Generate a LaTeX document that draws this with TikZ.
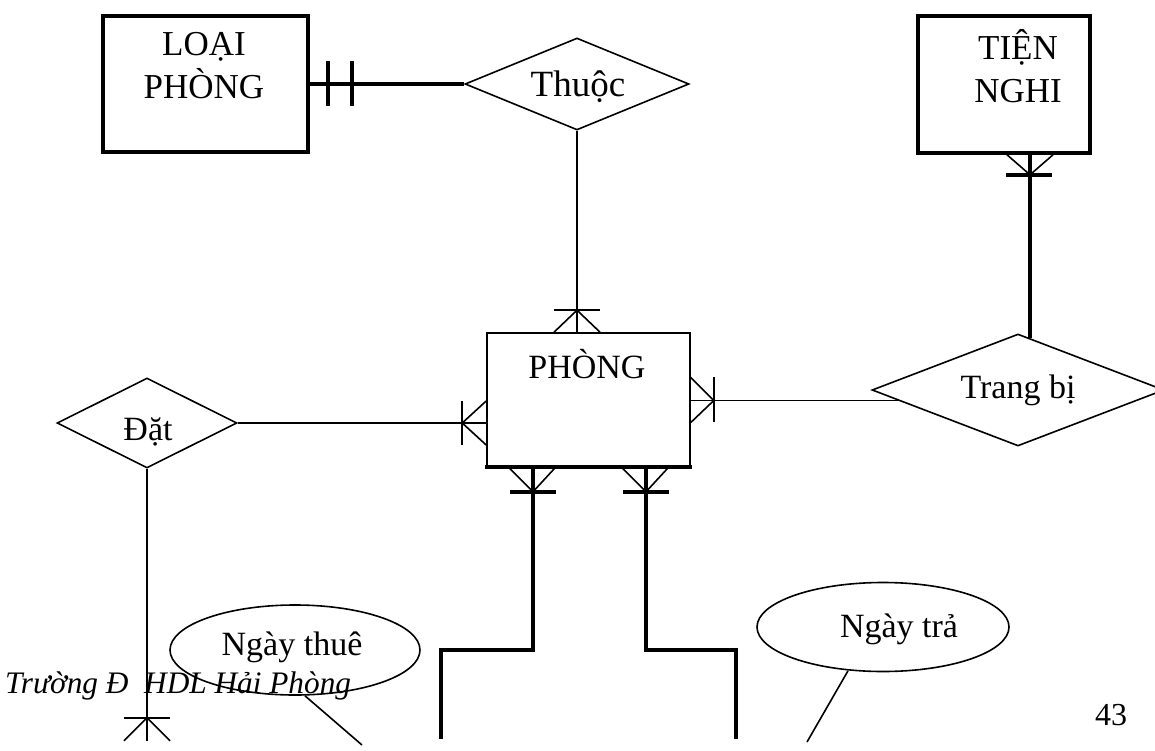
\documentclass[tikz,border=0pt]{standalone}
\usepackage{fontspec}
\setmainfont{Liberation Serif}
\usetikzlibrary{shapes.geometric,calc}
\begin{document}
\begin{tikzpicture}[x=1pt,y=-1pt,
  light/.style={line width=1.6pt},
  heavy/.style={line width=3.6pt},
  entity/.style={draw,rectangle,inner sep=0pt},
  relation/.style={draw,light,diamond,inner sep=0pt},
  attrib/.style={draw,light,ellipse,inner sep=0pt},
  lbl/.style={inner sep=0pt,font=\fontsize{34}{43}\selectfont},
  ]
\useasboundingbox (0,0) rectangle (1155,751);
\clip (0,0) rectangle (1155,751);

% entities
\node[entity,heavy,minimum width=205pt,minimum height=136pt] (loai) at (205.5,84) {};
\node[entity,heavy,minimum width=172pt,minimum height=137pt] (tien) at (1004,84.5) {};
\node[entity,light,minimum width=203pt,minimum height=133pt] (phong) at (588.5,399.5) {};
\draw[heavy] ($(phong.south west)+(-1,0)$) -- ($(phong.south east)+(1,0)$);

% relationships
\node[relation,minimum width=224pt,minimum height=92pt] (thuoc) at (577,84) {};
\node[relation,minimum width=180pt,minimum height=90pt] (dat) at (147,423) {};
\node[relation,minimum width=292pt,minimum height=112pt] (trang) at (1018,390) {};

% attributes
\node[attrib,minimum width=250pt,minimum height=90pt] (thue) at (295,650) {};
\node[attrib,minimum width=252pt,minimum height=89pt] (tra) at (883,627) {};

% texts
\node[lbl,align=center,font=\fontsize{35}{43}\selectfont] (loaiT) at (204,66) {LOẠI\\PHÒNG};
\node[lbl,align=center,font=\fontsize{35}{43}\selectfont] (tienT) at (1018,66) {TIỆN\\NGHI};
\node[lbl,anchor=base] (phongT) at (587,378) {PHÒNG};
\node[lbl,anchor=base,font=\fontsize{37}{43}\selectfont] (thuocT) at (578,97) {Thuộc};
\node[lbl,anchor=base] (datT) at (148,440) {Đặt};
\node[lbl,anchor=base] (trangT) at (1018,398) {Trang bị};
\node[lbl,anchor=base] (thueT) at (292,655) {Ngày thuê};
\node[lbl,anchor=base] (traT) at (899,637) {Ngày trả};
\node[anchor=base west,inner sep=0pt,font=\fontsize{31.3}{36}\selectfont\itshape] (foot) at (5,693) {Trường Đ\ \ HDL Hải Phòng};
\node[anchor=base,inner sep=0pt,font=\fontsize{32}{36}\selectfont] (page) at (1111,725) {43};

% LOẠI PHÒNG -- Thuộc (one and only one)
\draw[heavy] (loai.east) -- (thuoc.west);
\draw[heavy] ($(loai.east)+(18,-22.5)$) -- ($(loai.east)+(18,22.5)$);
\draw[heavy] ($(loai.east)+(42,-22.5)$) -- ($(loai.east)+(42,22.5)$);

% Thuộc -- PHÒNG (many)
\coordinate (tf) at (thuoc.south |- phong.north);
\draw[light] (thuoc.south) -- (tf);
\draw[light] ($(tf)+(-23,0)$) -- ($(tf)+(0,-22)$) -- ($(tf)+(23,0)$);
\draw[light] ($(tf)+(-23,-22)$) -- ($(tf)+(23,-22)$);

% Đặt -- PHÒNG (many)
\coordinate (lf) at (dat.east -| phong.west);
\draw[light] (dat.east) -- (lf);
\draw[light] ($(lf)+(0,-22)$) -- ($(lf)+(-24,0)$) -- ($(lf)+(0,22)$);
\draw[light] ($(lf)+(-24,-22)$) -- ($(lf)+(-24,22)$);

% PHÒNG -- Trang bị (many)
\coordinate (rf) at (trang.185 -| phong.east);
\draw[light] (rf) -- (trang.185);
\draw[light] ($(rf)+(0,-23)$) -- ($(rf)+(23,0)$) -- ($(rf)+(0,22)$);
\draw[light] ($(rf)+(23,-23)$) -- ($(rf)+(23,22)$);

% TIỆN NGHI -- Trang bị (many)
\coordinate (tb) at ($(tien.south)+(26,0)$);
\coordinate (tbEnd) at ($(trang.north)+(12,4.6)$);
\draw[heavy] (tb) -- (tbEnd);
\draw[light] ($(tb)+(-23,0)$) -- ($(tb)+(0,20)$) -- ($(tb)+(23,0)$);
\draw[heavy] ($(tb)+(-24,20)$) -- ($(tb)+(22,20)$);

% PHÒNG, bottom links (many)
\coordinate (b1) at ($(phong.south)+(-55.5,0)$);
\coordinate (b2) at ($(phong.south)+(57.5,0)$);
\foreach \b in {b1,b2}{
  \draw[light] ($(\b)+(-25,0)$) -- ($(\b)+(0,25)$) -- ($(\b)+(23,0)$);
  \draw[heavy] ($(\b)+(-23,25)$) -- ($(\b)+(23,25)$);
}
\draw[heavy] (b1) -- ++(0,183) -- ++(-92,0) -- ++(0,89);
\draw[heavy] (b2) -- ++(0,183) -- ++(90,0) -- ++(0,89);

% Đặt, downward link (many)
\coordinate (dend) at ($(dat.south)+(0,272)$);
\coordinate (df) at ($(dat.south)+(0,249)$);
\draw[light] (dat.south) -- (dend);
\draw[light] ($(df)+(-23,0)$) -- ($(df)+(23,0)$);
\draw[light] ($(dend)+(-23,0)$) -- (df) -- ($(dend)+(23,0)$);

% attribute links
\coordinate (thueEnd) at (362,745);
\coordinate (traEnd) at (807,742);
\draw[light] ($(thue.south)+(10,0)$) -- (thueEnd);
\draw[light] ($(tra.south)+(-35,-1.5)$) -- (traEnd);
\end{tikzpicture}
\end{document}
